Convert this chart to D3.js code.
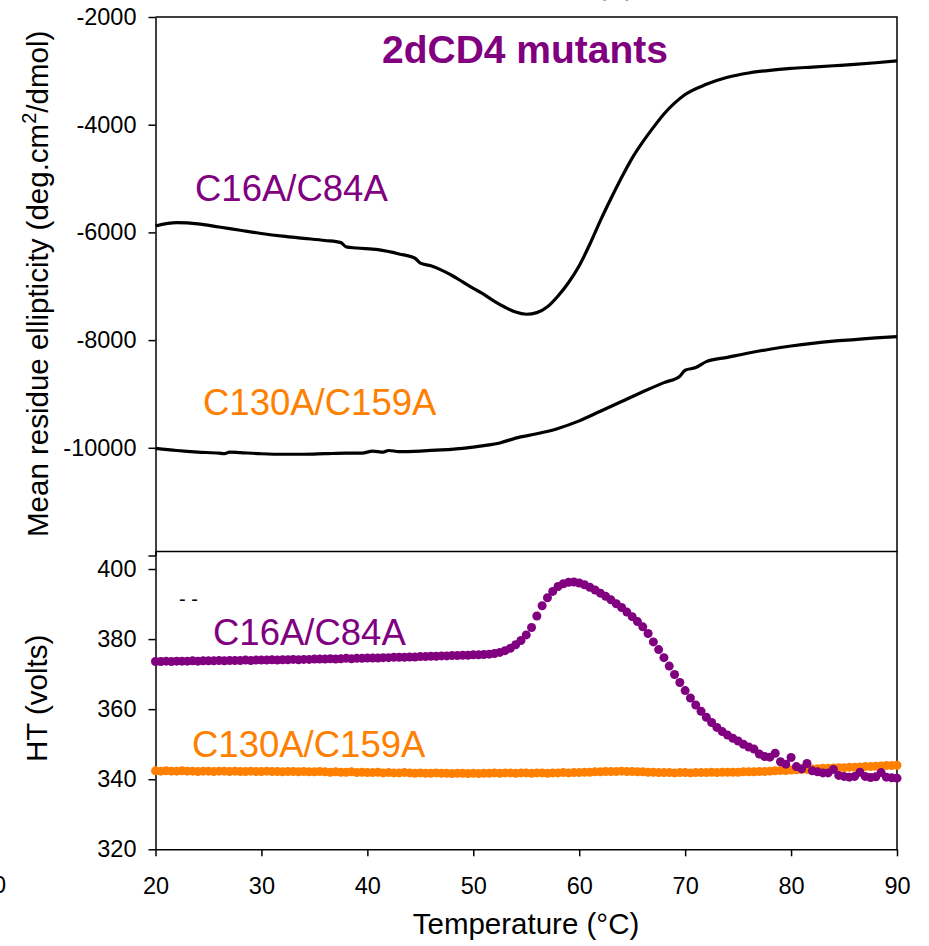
<!DOCTYPE html>
<html>
<head>
<meta charset="utf-8">
<script src="https://cdn.jsdelivr.net/npm/d3@7"></script>
<style>
  body { margin: 0; background: #fff; }
  text { font-family: "Liberation Sans", Arial, sans-serif; }
</style>
</head>
<body>
<script>
// CD thermal melt, ellipticity (top) and HT voltage (bottom)
var ellipTempC16 = [20, 22, 24, 26, 28, 30, 32, 34, 36, 37.5, 38, 39, 41, 43, 44.5, 45, 46, 47, 48, 49,
    50, 51, 52, 53, 54, 55, 56, 57, 58, 59, 60, 61, 62, 63, 64, 65, 66, 67, 68, 69,
    70, 72, 74, 76, 78, 80, 82, 84, 86, 88, 90];
var ellipC16 = [-5880, -5820, -5840, -5900, -5960, -6020, -6070, -6110, -6150, -6190, -6270, -6290, -6320, -6400, -6480, -6570, -6620, -6700, -6800, -6920,
    -7040, -7150, -7280, -7390, -7480, -7520, -7490, -7380, -7180, -6930, -6620, -6220, -5780, -5370, -4980, -4620, -4320, -4050, -3800, -3600,
    -3440, -3250, -3120, -3040, -2990, -2955, -2930, -2905, -2880, -2850, -2815];

var ellipTempC130 = [20, 22, 24, 26, 26.5, 27, 28, 30, 32, 34, 36, 38, 39.5, 40.5, 41.5, 42, 43, 45, 47, 49,
    51, 52.5, 54, 56, 58, 60, 62, 64, 66, 68, 69.5, 70, 71, 72, 74, 76, 78, 80, 82, 84, 86, 88, 90];
var ellipC130 = [-10010, -10050, -10080, -10100, -10110, -10080, -10090, -10110, -10120, -10120, -10110, -10100, -10100, -10060, -10080, -10050, -10070, -10060, -10040, -10010,
    -9960, -9910, -9820, -9740, -9640, -9500, -9320, -9140, -8960, -8790, -8670, -8560, -8510, -8400, -8320, -8240, -8170, -8110, -8060, -8020, -7990, -7960, -7935];

var htTemp = [20, 20.5, 21, 21.5, 22, 22.5, 23, 23.5, 24, 24.5,
    25, 25.5, 26, 26.5, 27, 27.5, 28, 28.5, 29, 29.5,
    30, 30.5, 31, 31.5, 32, 32.5, 33, 33.5, 34, 34.5,
    35, 35.5, 36, 36.5, 37, 37.5, 38, 38.5, 39, 39.5,
    40, 40.5, 41, 41.5, 42, 42.5, 43, 43.5, 44, 44.5,
    45, 45.5, 46, 46.5, 47, 47.5, 48, 48.5, 49, 49.5,
    50, 50.5, 51, 51.5, 52, 52.5, 53, 53.5, 54, 54.5,
    55, 55.5, 56, 56.5, 57, 57.5, 58, 58.5, 59, 59.5,
    60, 60.5, 61, 61.5, 62, 62.5, 63, 63.5, 64, 64.5,
    65, 65.5, 66, 66.5, 67, 67.5, 68, 68.5, 69, 69.5,
    70, 70.5, 71, 71.5, 72, 72.5, 73, 73.5, 74, 74.5,
    75, 75.5, 76, 76.5, 77, 77.5, 78, 78.5, 79, 79.5,
    80, 80.5, 81, 81.5, 82, 82.5, 83, 83.5, 84, 84.5,
    85, 85.5, 86, 86.5, 87, 87.5, 88, 88.5, 89, 89.5,
    90];
var htC16 = [373.6, 373.6, 373.7, 373.6, 373.7, 373.7, 373.7, 373.8, 373.7, 373.8,
    373.8, 373.8, 373.9, 373.8, 373.9, 373.9, 373.9, 374.0, 373.9, 374.0,
    374.0, 374.0, 374.1, 374.0, 374.1, 374.1, 374.2, 374.1, 374.2, 374.2,
    374.3, 374.3, 374.3, 374.4, 374.3, 374.4, 374.5, 374.4, 374.5, 374.5,
    374.6, 374.6, 374.6, 374.7, 374.7, 374.8, 374.8, 374.8, 374.9, 374.9,
    375.0, 375.0, 375.1, 375.1, 375.2, 375.2, 375.3, 375.3, 375.4, 375.4,
    375.5, 375.5, 375.6, 375.7, 375.9, 376.2, 376.7, 377.4, 378.4, 379.6,
    381.2, 383.3, 386.6, 389.5, 391.8, 393.6, 395.0, 395.8, 396.2, 396.3,
    396.0, 395.5, 394.8, 394.0, 393.1, 392.2, 391.2, 390.1, 389.0, 387.7,
    386.4, 385.0, 383.5, 381.6, 379.2, 377.0, 374.7, 372.3, 369.9, 367.6,
    365.3, 363.2, 361.2, 359.4, 357.7, 356.2, 354.8, 353.6, 352.6, 351.7,
    350.9, 350.0, 349.2, 348.6, 347.2, 346.5, 346.3, 347.4, 345.0, 344.3,
    346.2, 343.6, 343.0, 344.5, 342.4, 342.1, 341.8, 341.8, 342.8, 341.1,
    340.8, 340.6, 340.8, 342.0, 340.8, 340.5, 340.7, 341.9, 340.6, 340.4,
    340.3];
var htC130 = [342.4, 342.3, 342.4, 342.3, 342.3, 342.4, 342.3, 342.3, 342.2, 342.3,
    342.3, 342.2, 342.3, 342.3, 342.2, 342.3, 342.2, 342.2, 342.3, 342.2,
    342.2, 342.3, 342.2, 342.2, 342.1, 342.2, 342.2, 342.1, 342.2, 342.1,
    342.1, 342.2, 342.1, 342.0, 342.1, 342.0, 342.0, 342.1, 341.9, 342.0,
    341.9, 341.9, 342.0, 341.8, 341.9, 341.8, 341.8, 341.9, 341.8, 341.7,
    341.8, 341.7, 341.7, 341.8, 341.7, 341.7, 341.6, 341.7, 341.7, 341.6,
    341.7, 341.6, 341.7, 341.7, 341.8, 341.7, 341.8, 341.8, 341.7, 341.8,
    341.8, 341.7, 341.8, 341.8, 341.7, 341.8, 341.8, 341.9, 341.8, 341.9,
    341.9, 342.0, 342.0, 342.1, 342.1, 342.2, 342.2, 342.2, 342.3, 342.2,
    342.2, 342.1, 342.1, 342.0, 342.0, 341.9, 341.9, 341.9, 341.8, 341.9,
    341.9, 341.8, 341.9, 341.9, 341.9, 342.0, 341.9, 342.0, 342.0, 342.0,
    342.0, 342.1, 342.1, 342.1, 342.2, 342.2, 342.3, 342.4, 342.5, 342.5,
    342.6, 342.7, 342.8, 342.8, 342.9, 343.0, 343.1, 343.1, 343.2, 343.3,
    343.3, 343.4, 343.4, 343.5, 343.6, 343.6, 343.7, 343.8, 343.9, 343.9,
    344.0];

var xTicks = [20, 30, 40, 50, 60, 70, 80, 90];
var ellipTicks = [-2000, -4000, -6000, -8000, -10000, -12000];
var htTicks = [320, 340, 360, 380, 400];

var purple = "#800080", orange = "#ff8000";

var width = 929, height = 946;
var left = 155.5, right = 897;

var svg = d3.select("body").append("svg")
    .attr("width", width)
    .attr("height", height);

var x = d3.scaleLinear().domain([20, 90]).range([left, right]);
var yTop = d3.scaleLinear().domain([-12000, -2000]).range([555.5, 17]);
var yBot = d3.scaleLinear().domain([320, 405]).range([849.3, 551.5]);

// ---- frames
svg.append("path")
    .attr("d", "M" + left + "," + yTop(-2000) + "H" + right + "V" + yBot(405) + "H" + left)
    .attr("fill", "none").attr("stroke", "#000").attr("stroke-width", 1.5);
svg.append("path")
    .attr("d", "M" + right + "," + yBot(405) + "V" + yBot(320))
    .attr("fill", "none").attr("stroke", "#000").attr("stroke-width", 1.5);

// ---- axes
function styleAxis(g) {
    g.select(".domain").attr("stroke-width", 1.5);
    g.selectAll(".tick line").attr("stroke-width", 1.5);
    g.selectAll(".tick text").attr("font-size", 23.5).attr("fill", "#000");
}

svg.append("g")
    .attr("transform", "translate(" + left + ",0)")
    .call(d3.axisLeft(yTop).tickValues(ellipTicks).tickSize(7).tickPadding(12).tickSizeOuter(0)
        .tickFormat(d => d === -12000 ? "" : d))
    .call(styleAxis);

svg.append("g")
    .attr("transform", "translate(" + left + ",0)")
    .call(d3.axisLeft(yBot).tickValues(htTicks).tickSize(7).tickPadding(12).tickSizeOuter(0))
    .call(styleAxis);

svg.append("g")
    .attr("transform", "translate(0," + yBot(320) + ")")
    .call(d3.axisBottom(x).tickValues(xTicks).tickSize(7).tickPadding(21).tickSizeOuter(0))
    .call(styleAxis);

// ---- top panel lines
var line = d3.line().curve(d3.curveMonotoneX)
    .x(d => x(d[0]))
    .y(d => yTop(d[1]));

svg.append("path")
    .datum(d3.zip(ellipTempC130, ellipC130))
    .attr("fill", "none").attr("stroke", "#000").attr("stroke-width", 3.2)
    .attr("d", line);

svg.append("path")
    .datum(d3.zip(ellipTempC16, ellipC16))
    .attr("fill", "none").attr("stroke", "#000").attr("stroke-width", 3.2)
    .attr("d", line);

// ---- bottom panel dots
svg.append("g").selectAll("circle")
    .data(d3.zip(htTemp, htC130))
    .join("circle")
    .attr("cx", d => x(d[0]))
    .attr("cy", d => yBot(d[1]))
    .attr("r", 4.5)
    .attr("fill", orange);

svg.append("g").selectAll("circle")
    .data(d3.zip(htTemp, htC16))
    .join("circle")
    .attr("cx", d => x(d[0]))
    .attr("cy", d => yBot(d[1]))
    .attr("r", 4.5)
    .attr("fill", purple);

// ---- text
svg.append("text")
    .attr("x", 382).attr("y", 63)
    .attr("font-size", 39).attr("font-weight", "bold").attr("fill", purple)
    .text("2dCD4 mutants");

svg.append("text").attr("x", 195).attr("y", 201)
    .attr("font-size", 36.5).attr("fill", purple).text("C16A/C84A");
svg.append("text").attr("x", 203).attr("y", 415)
    .attr("font-size", 36.5).attr("fill", orange).text("C130A/C159A");
svg.append("text").attr("x", 213).attr("y", 645)
    .attr("font-size", 36.5).attr("fill", purple).text("C16A/C84A");
svg.append("text").attr("x", 192).attr("y", 757)
    .attr("font-size", 36.5).attr("fill", orange).text("C130A/C159A");

svg.append("text").attr("x", 179).attr("y", 606)
    .attr("font-size", 20).attr("fill", "#000").text("- -");

var yTitle = svg.append("text")
    .attr("transform", "translate(48,537) rotate(-90)")
    .attr("font-size", 29.5).attr("fill", "#000");
yTitle.append("tspan").text("Mean residue ellipticity (deg.cm");
yTitle.append("tspan").attr("dy", -12).attr("font-size", 20).text("2");
yTitle.append("tspan").attr("dy", 12).text("/dmol)");

svg.append("text")
    .attr("transform", "translate(47,762) rotate(-90)")
    .attr("font-size", 29.5).attr("fill", "#000")
    .text("HT (volts)");

svg.append("text")
    .attr("x", 526).attr("y", 934)
    .attr("text-anchor", "middle")
    .attr("font-size", 29.5).attr("fill", "#000")
    .text("Temperature (°C)");

// cut-off bits of neighbouring panels
svg.append("text").attr("x", 6).attr("y", 893)
    .attr("text-anchor", "end").attr("font-size", 23.5).attr("fill", "#000").text("10");
svg.append("text").attr("x", 597).attr("y", -5)
    .attr("font-size", 28).attr("fill", "#999").text("(B)");
</script>
</body>
</html>
